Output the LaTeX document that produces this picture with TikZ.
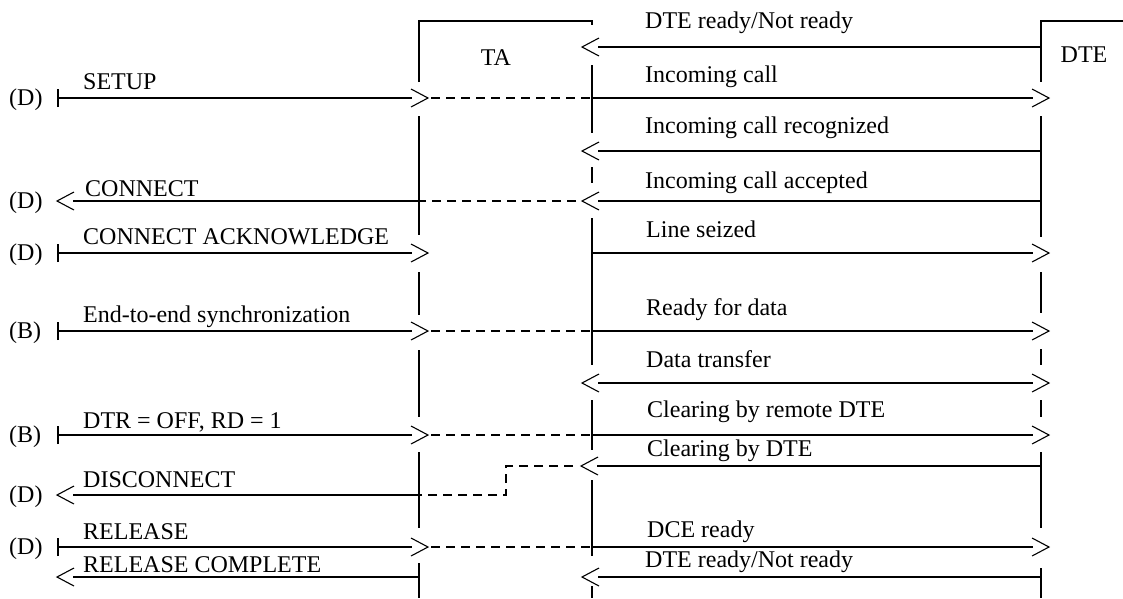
\documentclass[tikz,border=0pt]{standalone}
\usepackage{fontspec}
\setmainfont{Liberation Serif}
\usetikzlibrary{arrows.meta}

% open "V" head whose shaft stops at the back of the head
\pgfdeclarearrow{
  name = OpenVee,
  setup code = {
    \pgfarrowssettipend{0pt}
    \pgfarrowssetlineend{-16pt}
    \pgfarrowssetbackend{-17pt}
    \pgfarrowshullpoint{0pt}{0pt}
    \pgfarrowshullpoint{-17pt}{9pt}
    \pgfarrowshullpoint{-17pt}{-9pt}
  },
  drawing code = {
    \pgfsetdash{}{0pt}
    \pgfsetlinewidth{1.1pt}
    \pgfsetmiterjoin
    \pgfpathmoveto{\pgfqpoint{-17pt}{9pt}}
    \pgfpathlineto{\pgfqpoint{0pt}{0pt}}
    \pgfpathlineto{\pgfqpoint{-17pt}{-9pt}}
    \pgfusepathqstroke
  }
}

\tikzset{
  life/.style={line width=2pt},
  msg/.style={line width=2pt},
  tomsg/.style={msg,-{OpenVee}},
  barmsg/.style={msg,{Bar[width=18pt]}-{OpenVee}},
  bothmsg/.style={msg,{OpenVee}-{OpenVee}},
  dsh/.style={line width=2pt,dash pattern=on 9pt off 6pt},
  lbl/.style={anchor=base west,inner sep=0pt,font=\fontsize{24}{28}\selectfont},
}

\begin{document}
\begin{tikzpicture}[x=1pt,y=-1pt]
\useasboundingbox (0,0) rectangle (1123,598);

% crossing points of every message row with the three lifelines
\foreach \i/\y in {1/47,2/98,3/151,4/201,5/253,6/331,7/383,8/435,9/466,10/495,11/547,12/577}{
  \coordinate (s-\i) at (57,\y);
  \coordinate (tl-\i) at (419,\y);
  \coordinate (tr-\i) at (592,\y);
  \coordinate (de-\i) at (1041,\y);
}

% TA frame and lifelines (broken where arrow heads cross them)
\draw[life] (419,82) -- (419,21) -- (592,21) -- (592,25);
\foreach \a/\b in {116/235,272/315,350/417,452/528,563/598}
  \draw[life] (419,\a) -- (419,\b);
\foreach \a/\b in {65/133,167/183,218/365,400/450,480/556,586/598}
  \draw[life] (592,\a) -- (592,\b);

% DTE frame and lifeline
\draw[life] (1123,21) -- (1041,21) -- (1041,82);
\foreach \a/\b in {116/237,272/313,349/365,400/417,452/528,568/598}
  \draw[life] (1041,\a) -- (1041,\b);

% entity names
\node[lbl,anchor=base] (ta) at (496,65) {TA};
\node[lbl,anchor=base] (dte) at (1084,62) {DTE};

% left-hand interface markers
\node[lbl] (p2) at (9,105) {(D)};
\node[lbl] (p4) at (9,208) {(D)};
\node[lbl] (p5) at (9,260) {(D)};
\node[lbl] (p6) at (9,338) {(B)};
\node[lbl] (p8) at (9,442) {(B)};
\node[lbl] (p10) at (9,502) {(D)};
\node[lbl] (p11) at (9,554) {(D)};

% left-hand messages
\node[lbl] (m2) at (83,89) {SETUP};
\node[lbl] (m4) at (85,196) {CONNECT};
\node[lbl] (m5) at (83,244) {CONNECT ACKNOWLEDGE};
\node[lbl] (m6) at (83,322) {End-to-end synchronization};
\node[lbl] (m8) at (83,428) {DTR = OFF, RD = 1};
\node[lbl] (m10) at (83,487) {DISCONNECT};
\node[lbl] (m11) at (83,539) {RELEASE};
\node[lbl] (m12) at (83,572) {RELEASE COMPLETE};

% right-hand messages
\node[lbl] (n1) at (645,28) {DTE ready/Not ready};
\node[lbl] (n2) at (645,82) {Incoming call};
\node[lbl] (n3) at (645,133) {Incoming call recognized};
\node[lbl] (n4) at (645,188) {Incoming call accepted};
\node[lbl] (n5) at (646,237) {Line seized};
\node[lbl] (n6) at (646,315) {Ready for data};
\node[lbl] (n7) at (646,367) {Data transfer};
\node[lbl] (n8) at (647,417) {Clearing by remote DTE};
\node[lbl] (n9) at (647,456) {Clearing by DTE};
\node[lbl] (n11) at (647,537) {DCE ready};
\node[lbl] (n12) at (645,567) {DTE ready/Not ready};

% row 1
\draw[tomsg] (de-1) -- ([xshift=-10pt]tr-1);
% row 2: SETUP / Incoming call
\draw[barmsg] (s-2) -- ([xshift=9pt]tl-2);
\draw[dsh] ([xshift=12pt]tl-2) -- (tr-2);
\draw[tomsg] (tr-2) -- ([xshift=8pt]de-2);
% row 3
\draw[tomsg] (de-3) -- ([xshift=-10pt]tr-3);
% row 4: Incoming call accepted / CONNECT
\draw[tomsg] (de-4) -- ([xshift=-10pt]tr-4);
\draw[dsh] ([xshift=-16pt]tr-4) -- (tl-4);
\draw[tomsg] (tl-4) -- (s-4);
% row 5: CONNECT ACKNOWLEDGE / Line seized
\draw[barmsg] (s-5) -- ([xshift=9pt]tl-5);
\draw[tomsg] (tr-5) -- ([xshift=8pt]de-5);
% row 6: synchronization / Ready for data
\draw[barmsg] (s-6) -- ([xshift=9pt]tl-6);
\draw[dsh] ([xshift=12pt]tl-6) -- (tr-6);
\draw[tomsg] (tr-6) -- ([xshift=8pt]de-6);
% row 7: data transfer
\draw[bothmsg] ([xshift=-10pt]tr-7) -- ([xshift=8pt]de-7);
% row 8: DTR off / Clearing by remote DTE
\draw[barmsg] (s-8) -- ([xshift=9pt]tl-8);
\draw[dsh] ([xshift=12pt]tl-8) -- (tr-8);
\draw[tomsg] (tr-8) -- ([xshift=8pt]de-8);
% rows 9-10: Clearing by DTE / DISCONNECT
\coordinate (k9) at (506,466);
\coordinate (k10) at (506,495);
\draw[tomsg] (de-9) -- ([xshift=-11pt]tr-9);
\draw[dsh] ([xshift=-19pt]tr-9) -- (k9) -- (k10) -- (tl-10);
\draw[tomsg] (tl-10) -- (s-10);
% row 11: RELEASE / DCE ready
\draw[barmsg] (s-11) -- ([xshift=9pt]tl-11);
\draw[dsh] ([xshift=12pt]tl-11) -- (tr-11);
\draw[tomsg] (tr-11) -- ([xshift=8pt]de-11);
% row 12: RELEASE COMPLETE / DTE ready
\draw[tomsg] (de-12) -- ([xshift=-10pt]tr-12);
\draw[tomsg] (tl-12) -- (s-12);
\end{tikzpicture}
\end{document}
